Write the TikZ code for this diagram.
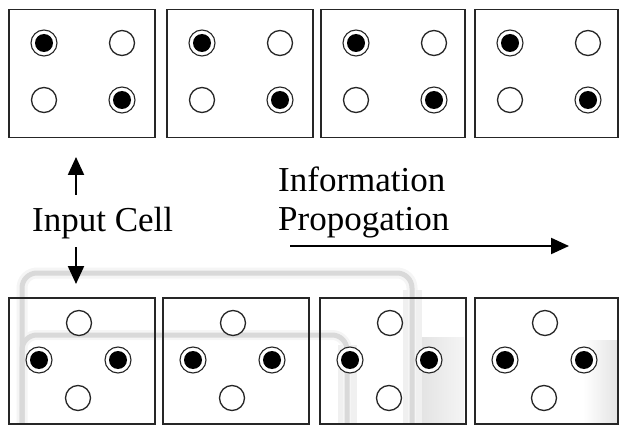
\documentclass[tikz,border=0pt]{standalone}
\usepackage{fontspec}
\setmainfont{Liberation Serif}
\usetikzlibrary{arrows.meta}
\begin{document}
\begin{tikzpicture}[x=1pt,y=-1pt,
  cellbox/.style={draw=black!85, line width=1.5pt, inner sep=0pt, anchor=north west},
  opendot/.style={circle, draw=black!85, line width=1.3pt, fill=white, minimum size=25pt, inner sep=0pt},
  fulldot/.style={circle, draw=black!85, line width=1.1pt, fill=white, minimum size=26pt, inner sep=0pt,
    path picture={\fill[black] (path picture bounding box.center) circle (9pt);}},
  lbl/.style={anchor=base west, inner sep=0pt, font=\fontsize{35}{38}\selectfont},
  arr/.style={line width=2.2pt, -{Triangle[width=16pt,length=18pt]}},
  wmhalo/.style={gray!8, line width=#1},
  wmcore/.style={gray!30, line width=#1}]
\useasboundingbox (0,0) rectangle (619,425);
% faint watermark behind the lower row
\shade[left color=gray!22, right color=gray!8] (420,337) rectangle (464,423);
\shade[left color=white, right color=gray!22] (583,340) rectangle (619,423);
\begin{scope}[rounded corners=15pt]
  \draw[wmhalo=11pt] (22,426) -- (22,273) -- (412,273) -- (412,426);
  \draw[wmhalo=10pt] (22,426) -- (22,335) -- (347,335) -- (347,426);
  \draw[wmcore=5pt] (22,426) -- (22,273) -- (412,273) -- (412,426);
  \draw[wmcore=5pt] (22,426) -- (22,335) -- (347,335) -- (347,426);
\end{scope}
\fill[gray!12] (338,345) rectangle (343,423);
\fill[gray!12] (351,345) rectangle (357,423);
\fill[gray!12] (403,290) rectangle (408,423);
\fill[gray!12] (416,290) rectangle (422,423);
% upper row
\foreach \i/\x/\w in {1/8/146, 2/166/146, 3/320/144, 4/474/143} {
  \node[cellbox, minimum width=\w pt, minimum height=128pt] (top\i) at (\x,9) {};
  \node[fulldot] (top\i a) at ({\x+36},43) {};
  \node[opendot] (top\i b) at ({\x+114},43) {};
  \node[opendot] (top\i c) at ({\x+36},100) {};
  \node[fulldot] (top\i d) at ({\x+114},100) {};
}
% lower row
\foreach \i/\x/\w in {1/8/146, 2/162/146, 3/319/146, 4/474/143} {
  \node[cellbox, minimum width=\w pt, minimum height=126pt] (bot\i) at (\x,297) {};
  \node[opendot] (bot\i a) at ({\x+71},323) {};
  \node[fulldot] (bot\i b) at ({\x+31},360) {};
  \node[fulldot] (bot\i c) at ({\x+110},360) {};
  \node[opendot] (bot\i d) at ({\x+70},398) {};
}
% labels
\node[lbl] (inp) at (32,232) {Input Cell};
\node[lbl] (info1) at (278,192) {Information};
\node[lbl] (info2) at (278,230) {Propogation};
% arrows
\coordinate (upS) at (76,195);
\coordinate (upE) at (76,157);
\coordinate (dnS) at (76,247);
\coordinate (dnE) at (76,284);
\coordinate (prS) at (290,246);
\coordinate (prE) at (569,246);
\draw[arr] (upS) -- (upE);
\draw[arr] (dnS) -- (dnE);
\draw[arr] (prS) -- (prE);
\end{tikzpicture}
\end{document}
